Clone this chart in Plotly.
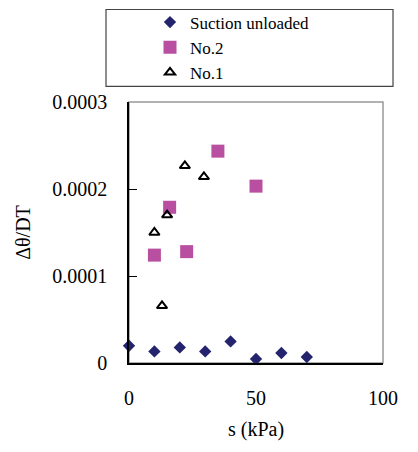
import plotly.graph_objects as go

# Data
unloaded_s = [0, 10, 20, 30, 40, 50, 60, 70]
unloaded_v = [0.0000198, 0.0000133, 0.0000179, 0.0000133, 0.0000248, 0.0000046, 0.0000115, 0.0000069]

no2_s = [10, 16, 22.7, 35, 50]
no2_v = [0.000124, 0.000179, 0.000128, 0.0002435, 0.0002033]

no1_s = [10, 15, 13, 22, 29.5]
no1_v = [0.00015, 0.00017, 0.0000657, 0.0002266, 0.000214]

x_ticks = [0, 50, 100]
x_labels = ["0", "50", "100"]
y_ticks = [0, 0.0001, 0.0002, 0.0003]
y_labels = ["0", "0.0001", "0.0002", "0.0003"]

FONT = "Liberation Serif, Times New Roman, serif"

fig = go.Figure()
fig.add_trace(go.Scatter(
    x=unloaded_s, y=unloaded_v, mode="markers", name="Suction unloaded",
    marker=dict(symbol="diamond", size=9.5, color="#24236E"), cliponaxis=False))
fig.add_trace(go.Scatter(
    x=no2_s, y=no2_v, mode="markers", name="No.2",
    marker=dict(symbol="square", size=13, color="#B84FA0"), cliponaxis=False))
fig.add_trace(go.Scatter(
    x=no1_s, y=no1_v, mode="markers", name="No.1",
    marker=dict(symbol="triangle-up-open", size=9, color="black",
                line=dict(width=2, color="black")), cliponaxis=False))

# plot frame (top/right gray)
fig.add_shape(type="rect", xref="paper", yref="paper", x0=0, y0=0, x1=1, y1=1,
              line=dict(color="#999999", width=1.5), layer="below")
# legend box
fig.add_shape(type="rect", xref="paper", yref="paper",
              x0=(106 - 129) / 254, x1=(393 - 129) / 254,
              y0=(363.3 - 86) / 261.6, y1=(363.3 - 9) / 261.6,
              line=dict(color="#444444", width=1.2), layer="below")

fig.update_layout(
    width=418, height=452,
    margin=dict(l=129, r=35, t=102, b=89, autoexpand=False),
    paper_bgcolor="white", plot_bgcolor="white",
    font=dict(family=FONT, size=20, color="black"),
    showlegend=True,
    legend=dict(x=(150 - 129) / 254, y=(363.3 - 4) / 261.6, xanchor="left", yanchor="top",
                bgcolor="rgba(0,0,0,0)", borderwidth=0,
                font=dict(family=FONT, size=17, color="black"),
                itemwidth=30, tracegroupgap=0),
    xaxis=dict(range=[0, 100], tickvals=x_ticks, ticktext=x_labels, ticks="",
               tickfont=dict(family=FONT, size=20, color="black"),
               showline=True, linecolor="black", linewidth=1.5, showgrid=False,
               zeroline=False, ticklabelstandoff=16,
               title=dict(text="s (kPa)", standoff=14, font=dict(family=FONT, size=20))),
    yaxis=dict(range=[0, 0.0003], tickvals=y_ticks, ticktext=y_labels, ticks="inside",
               ticklen=8, tickcolor="black", tickwidth=1,
               tickfont=dict(family=FONT, size=20, color="black"),
               showline=True, linecolor="black", linewidth=1.5, showgrid=False,
               zeroline=False, ticklabelstandoff=16,
               title=dict(text="Δθ/DT", standoff=16, font=dict(family=FONT, size=20))),
)

fig.write_html("out.html")
